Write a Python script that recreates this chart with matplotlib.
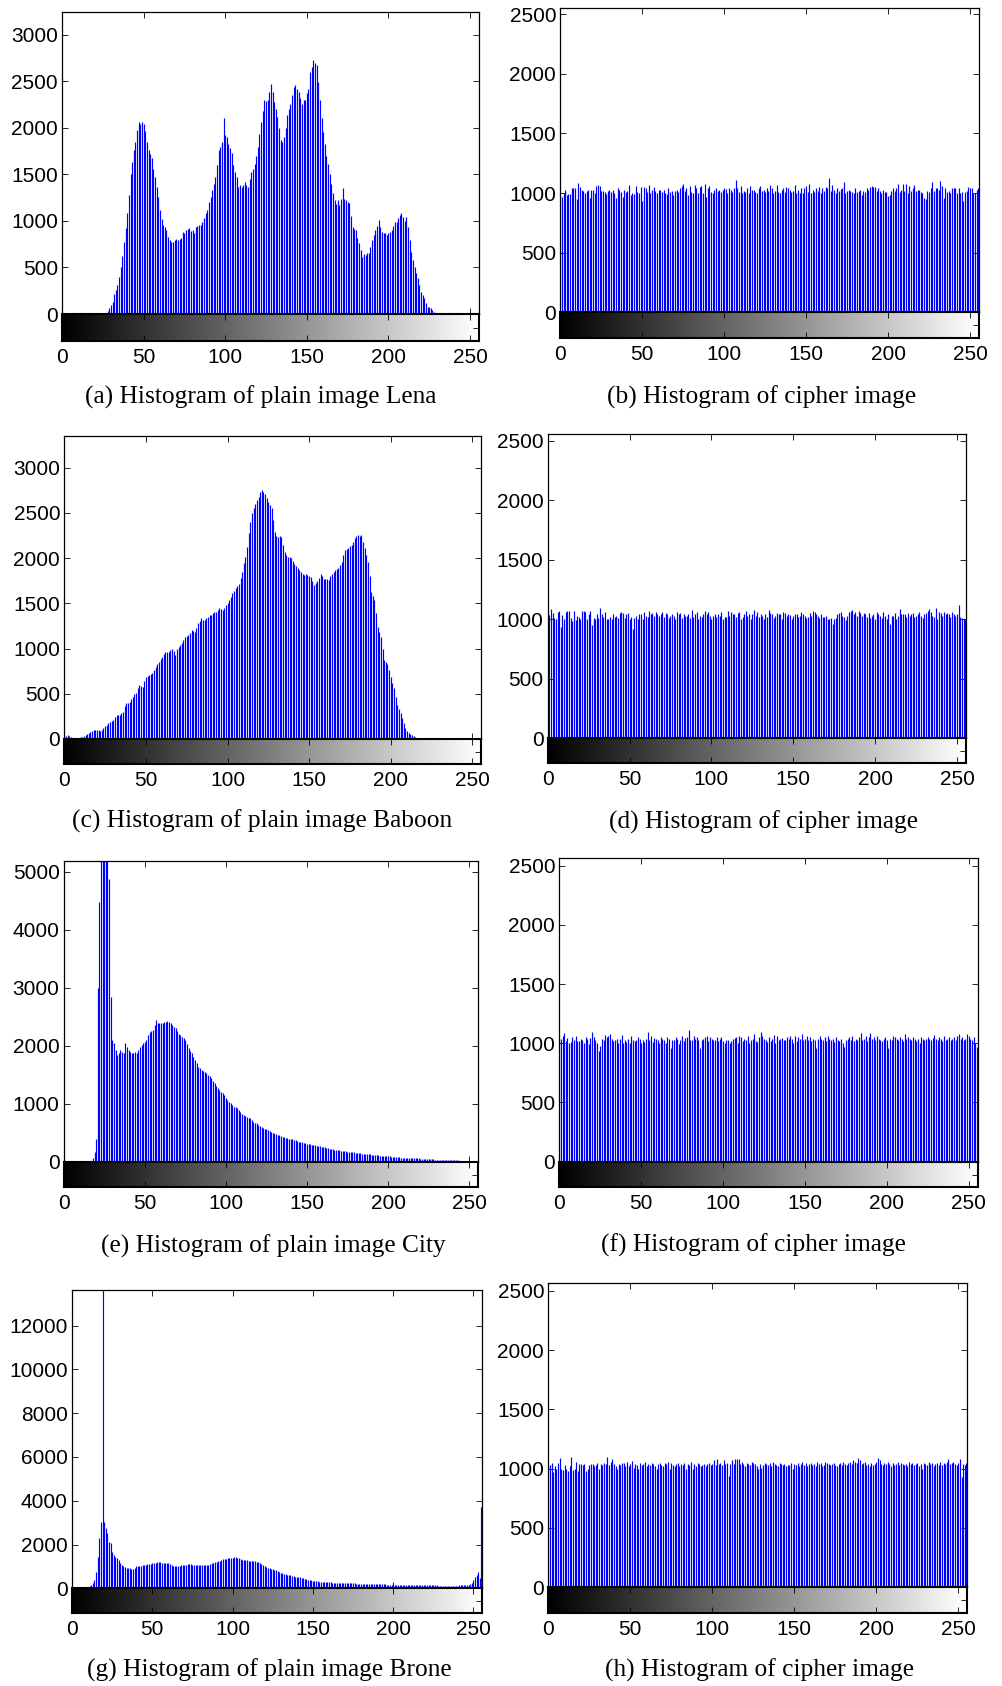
import numpy as np
import matplotlib
matplotlib.use("Agg")
import matplotlib.pyplot as plt

plt.rcParams['font.family'] = ['Liberation Sans', 'DejaVu Sans']

gray_levels = np.arange(256)
x_ticks = [0, 50, 100, 150, 200, 250]

# plain image histograms (16 bins per row)
lena_counts = [
    0, 0, 0, 0, 0, 0, 0, 0, 0, 0, 0, 0, 0, 0, 0, 0,
    0, 0, 0, 0, 0, 0, 0, 0, 0, 0, 0, 15, 35, 60, 95, 130,
    220, 260, 310, 400, 500, 620, 775, 920, 1080, 1280, 1500, 1635, 1760, 1850, 1980, 2065,
    2040, 2065, 2045, 1960, 1850, 1760, 1720, 1670, 1560, 1475, 1360, 1260, 1120, 1025, 955, 930,
    900, 830, 795, 770, 775, 800, 810, 790, 810, 820, 885, 870, 900, 910, 920, 890,
    900, 870, 935, 940, 955, 960, 990, 1030, 1080, 1120, 1205, 1260, 1330, 1400, 1475, 1600,
    1760, 1790, 1850, 2100, 1920, 1900, 1830, 1780, 1725, 1600, 1530, 1475, 1365, 1380, 1365, 1380,
    1420, 1380, 1365, 1450, 1530, 1560, 1615, 1700, 1795, 1930, 2065, 2180, 2295, 2290, 2300, 2380,
    2475, 2380, 2280, 2200, 2115, 2000, 1870, 1850, 1905, 2000, 2135, 2200, 2260, 2350, 2440, 2460,
    2420, 2380, 2315, 2250, 2295, 2300, 2370, 2420, 2600, 2650, 2725, 2700, 2670, 2495, 2300, 2100,
    1950, 1830, 1700, 1615, 1500, 1400, 1300, 1225, 1180, 1225, 1170, 1240, 1350, 1230, 1225, 1200,
    1190, 1050, 935, 910, 900, 820, 760, 690, 615, 640, 635, 660, 650, 720, 795, 850,
    900, 950, 1010, 930, 885, 870, 865, 850, 865, 880, 900, 950, 990, 990, 1030, 1060,
    1090, 1045, 1000, 1045, 935, 800, 670, 580, 510, 440, 385, 310, 240, 200, 170, 120,
    80, 70, 60, 40, 25, 15, 7, 0, 0, 0, 0, 0, 0, 0, 0, 0,
    0, 0, 0, 0, 0, 0, 0, 0, 0, 0, 0, 0, 0, 0, 0, 0,
]

baboon_counts = [
    40, 30, 45, 35, 20, 15, 10, 12, 10, 15, 20, 25, 35, 44, 55, 63,
    75, 92, 95, 100, 98, 95, 92, 105, 118, 140, 155, 175, 190, 200, 210, 240,
    265, 270, 265, 285, 300, 360, 395, 400, 410, 440, 470, 500, 505, 560, 600, 590,
    580, 640, 690, 700, 710, 715, 725, 760, 800, 830, 855, 880, 910, 940, 965, 960,
    965, 985, 1000, 970, 930, 1000, 1020, 1040, 1060, 1090, 1130, 1140, 1150, 1170, 1205, 1190,
    1185, 1230, 1280, 1310, 1335, 1320, 1315, 1340, 1350, 1370, 1370, 1390, 1400, 1410, 1430, 1445,
    1435, 1425, 1450, 1480, 1500, 1535, 1570, 1610, 1640, 1665, 1690, 1720, 1780, 1850, 1950, 2010,
    2120, 2275, 2400, 2500, 2560, 2605, 2640, 2680, 2730, 2750, 2730, 2715, 2670, 2625, 2590, 2550,
    2420, 2290, 2250, 2235, 2240, 2235, 2150, 2070, 2040, 2015, 2010, 2000, 1970, 1940, 1915, 1890,
    1870, 1850, 1830, 1815, 1820, 1815, 1800, 1795, 1750, 1700, 1730, 1750, 1780, 1830, 1800, 1775,
    1770, 1765, 1760, 1800, 1830, 1850, 1870, 1880, 1890, 1930, 1960, 2030, 2090, 2100, 2110, 2130,
    2145, 2180, 2220, 2240, 2255, 2250, 2255, 2180, 2110, 2040, 1960, 1800, 1630, 1580, 1535, 1390,
    1240, 1180, 1130, 1000, 875, 850, 835, 760, 690, 620, 560, 470, 375, 330, 285, 230,
    175, 125, 90, 70, 50, 40, 28, 22, 15, 12, 10, 5, 5, 5, 5, 5,
    5, 5, 5, 0, 0, 0, 0, 0, 0, 0, 0, 0, 0, 0, 0, 0,
    0, 0, 0, 0, 0, 0, 0, 0, 0, 0, 0, 0, 0, 0, 0, 0,
]

city_counts = [
    0, 0, 0, 0, 0, 0, 0, 0, 0, 0, 0, 0, 0, 0, 0, 0,
    0, 20, 57, 170, 400, 2990, 4480, 5600, 6400, 6900, 6300, 5700, 4870, 2845, 2100, 2050,
    1925, 1840, 1880, 1925, 1900, 1870, 2040, 1980, 1925, 1900, 1870, 1870, 1890, 1870, 1930, 1980,
    2010, 2040, 2070, 2100, 2180, 2240, 2250, 2270, 2350, 2440, 2400, 2385, 2390, 2395, 2405, 2415,
    2420, 2415, 2390, 2355, 2330, 2300, 2250, 2210, 2180, 2155, 2130, 2100, 2030, 1955, 1910, 1870,
    1810, 1750, 1700, 1640, 1610, 1580, 1565, 1550, 1525, 1500, 1470, 1435, 1390, 1350, 1310, 1265,
    1235, 1205, 1180, 1150, 1105, 1065, 1035, 1005, 975, 950, 935, 920, 890, 860, 830, 805,
    790, 775, 760, 745, 720, 690, 675, 660, 640, 615, 595, 575, 565, 560, 545, 535,
    515, 500, 490, 475, 465, 460, 445, 430, 420, 415, 405, 400, 395, 390, 380, 375,
    360, 345, 340, 335, 325, 315, 310, 305, 298, 290, 285, 280, 275, 270, 265, 260,
    252, 245, 238, 230, 225, 220, 215, 210, 205, 200, 195, 190, 188, 185, 178, 172,
    166, 160, 160, 160, 152, 145, 145, 145, 138, 130, 128, 125, 125, 125, 120, 115,
    112, 110, 108, 105, 103, 100, 100, 98, 95, 90, 86, 84, 82, 80, 78, 75,
    72, 70, 69, 69, 68, 66, 63, 60, 58, 57, 57, 56, 55, 53, 50, 48,
    46, 44, 42, 40, 38, 36, 34, 33, 32, 31, 30, 29, 28, 27, 26, 25,
    24, 23, 22, 21, 20, 19, 18, 18, 17, 17, 16, 16, 15, 15, 14, 13,
]

brone_counts = [
    0, 0, 0, 0, 0, 0, 0, 0, 0, 0, 0, 107, 150, 230, 380, 760,
    1450, 2285, 3045, 14500, 3045, 2740, 2510, 2130, 2055, 1675, 1520, 1450, 1370, 1295, 1140, 1080,
    1020, 980, 945, 930, 915, 900, 885, 950, 1020, 1010, 1020, 1040, 1065, 1060, 1065, 1090,
    1110, 1120, 1140, 1150, 1170, 1195, 1220, 1200, 1170, 1175, 1170, 1155, 1140, 1095, 1050, 1035,
    1020, 1025, 1020, 1030, 1050, 1055, 1065, 1080, 1095, 1090, 1095, 1080, 1065, 1070, 1080, 1075,
    1080, 1075, 1070, 1065, 1065, 1060, 1100, 1140, 1140, 1180, 1220, 1240, 1265, 1295, 1325, 1340,
    1355, 1370, 1385, 1390, 1400, 1410, 1415, 1390, 1370, 1330, 1295, 1295, 1295, 1280, 1265, 1265,
    1265, 1265, 1240, 1220, 1180, 1140, 1100, 1065, 1030, 990, 950, 915, 890, 870, 855, 840,
    800, 760, 720, 685, 660, 640, 625, 610, 595, 580, 555, 535, 515, 500, 500, 475,
    455, 430, 410, 395, 380, 365, 350, 335, 320, 312, 305, 298, 290, 282, 275, 275,
    275, 268, 260, 255, 250, 248, 245, 242, 240, 235, 232, 230, 228, 232, 230, 226,
    228, 215, 218, 212, 215, 205, 200, 205, 198, 200, 185, 190, 185, 182, 188, 185,
    180, 186, 185, 175, 170, 172, 168, 170, 174, 168, 170, 165, 170, 168, 172, 150,
    152, 148, 150, 155, 150, 146, 150, 148, 152, 150, 145, 150, 137, 140, 135, 138,
    137, 135, 140, 136, 120, 122, 118, 120, 124, 118, 120, 122, 116, 120, 118, 122,
    120, 137, 140, 137, 150, 148, 152, 170, 200, 260, 380, 535, 620, 760, 450, 3730,
]

# cipher image histograms
lena_cipher_counts = [
    985, 970, 1000, 1030, 985, 990, 995, 1040, 1045, 1045, 950, 1085, 1050, 1030, 1020, 1000,
    1020, 1025, 960, 1030, 1025, 1000, 1060, 1065, 1060, 1020, 1015, 1010, 995, 1020, 1025, 1005,
    1030, 1000, 960, 1040, 1030, 1005, 965, 1025, 1010, 1015, 1070, 985, 1000, 990, 1060, 1010,
    1000, 1055, 935, 1050, 1045, 1010, 1065, 1000, 1030, 1050, 1015, 1000, 1025, 1030, 1010, 1030,
    1000, 990, 1045, 1010, 1020, 980, 1020, 1030, 1005, 1045, 1060, 1075, 1020, 1040, 980, 1060,
    1010, 1000, 1070, 1040, 1000, 1050, 1060, 1000, 1080, 970, 1045, 1060, 1010, 1000, 1030, 1040,
    1020, 1030, 1010, 1030, 1040, 1035, 1000, 1040, 1030, 1010, 1045, 1110, 1040, 1005, 1060, 1000,
    1020, 1005, 1040, 1000, 1060, 1030, 1030, 1010, 1000, 1040, 1060, 1020, 1030, 1005, 1045, 1015,
    1065, 1040, 1000, 1020, 1070, 1010, 1000, 1030, 1040, 1005, 1050, 1040, 1030, 1010, 1020, 1065,
    1000, 1030, 1000, 1045, 1000, 1040, 1060, 1010, 1075, 1000, 1030, 1010, 1045, 1020, 1050, 1000,
    1040, 1020, 1050, 1040, 1125, 1020, 1065, 1030, 1000, 1040, 1015, 1035, 1040, 1095, 1000, 1020,
    1030, 1015, 1010, 1000, 1040, 1010, 1015, 1030, 985, 1020, 1010, 1040, 1030, 1050, 1060, 1050,
    1055, 1020, 1045, 1020, 1000, 1030, 1010, 1010, 975, 985, 1020, 1045, 1020, 1040, 1080, 1005,
    1030, 1080, 1020, 1080, 1000, 1060, 1020, 1040, 1070, 1020, 1030, 1025, 1010, 1000, 960, 950,
    1015, 1010, 1045, 1095, 1020, 1040, 1040, 1030, 1100, 1060, 960, 1040, 1010, 1020, 1000, 1040,
    1040, 1040, 1000, 1040, 1000, 1010, 930, 1005, 1020, 1050, 1040, 1040, 1000, 1000, 1030, 1040,
]

baboon_cipher_counts = [
    1040, 1035, 1085, 1050, 1010, 1000, 1060, 1065, 935, 1035, 1000, 1060, 1070, 1070, 1010, 985,
    1065, 990, 1030, 1015, 1000, 1065, 1070, 1060, 1000, 1045, 1070, 950, 1010, 1000, 1040, 1010,
    1090, 1040, 1020, 1060, 1005, 1000, 1020, 1000, 1040, 1020, 1030, 1010, 1050, 1060, 1055, 1010,
    1045, 1055, 1000, 1015, 915, 1010, 1025, 1000, 1040, 1045, 1000, 1060, 1030, 1020, 1070, 1040,
    1050, 1030, 1060, 1040, 1030, 1045, 1060, 1020, 1050, 1045, 1010, 1025, 1040, 1030, 1000, 1060,
    1045, 1050, 1010, 1040, 1030, 1030, 1040, 1010, 1075, 1020, 1045, 1060, 1000, 1030, 1020, 1040,
    1065, 1040, 1060, 1030, 1005, 1025, 1040, 1020, 1040, 1030, 1060, 1000, 1015, 1020, 1070, 1030,
    1060, 1040, 1040, 1020, 1050, 1060, 1005, 1020, 1040, 1070, 1030, 1045, 1000, 1040, 1080, 1030,
    1060, 1020, 1040, 1030, 1000, 1040, 1020, 1080, 1050, 1040, 1010, 1030, 1050, 1040, 1045, 1005,
    1060, 1050, 1030, 1040, 1035, 1000, 1030, 1040, 1040, 1020, 1030, 1060, 1040, 1030, 1010, 1020,
    1050, 1030, 1070, 1060, 1040, 1030, 1010, 1045, 1015, 1020, 1030, 1005, 1000, 1010, 960, 1000,
    1010, 1040, 1050, 1060, 1030, 1020, 990, 1030, 1060, 1070, 1075, 1040, 1060, 1025, 1070, 1050,
    1030, 1050, 1040, 1020, 1050, 1010, 1030, 1040, 1000, 1060, 1045, 1030, 1010, 1060, 1030, 1000,
    1040, 960, 1030, 1030, 1050, 1000, 1030, 1085, 1040, 1045, 1040, 1020, 1050, 1030, 1040, 1050,
    1020, 1030, 1040, 1060, 1030, 1010, 1040, 1050, 1070, 1085, 1060, 1030, 1020, 1090, 1000, 1060,
    1050, 1030, 1060, 1045, 1050, 1040, 1020, 1060, 1040, 1030, 1045, 1118, 1020, 1010, 1000, 1005,
]

city_cipher_counts = [
    1045, 1040, 1060, 1084, 1020, 1045, 1000, 1010, 1050, 1030, 1060, 1020, 1020, 1040, 1030, 1000,
    1050, 1040, 990, 1045, 1092, 1050, 1030, 1000, 937, 975, 1040, 1030, 1070, 1050, 1060, 1080,
    1040, 1020, 1030, 1040, 1000, 1040, 1070, 1000, 1030, 1010, 1040, 1000, 1060, 1030, 1020, 1030,
    1050, 1040, 1000, 1030, 1010, 1040, 1092, 1030, 1060, 1010, 1045, 1040, 1030, 1000, 1050, 1040,
    1030, 1000, 1050, 1040, 957, 1030, 1030, 1050, 1040, 990, 1030, 1060, 1020, 1045, 1050, 1112,
    1030, 1030, 1060, 1040, 1050, 1030, 960, 1030, 1040, 1050, 1060, 1020, 1050, 1040, 1030, 1030,
    1050, 1020, 1040, 1050, 1020, 1000, 1030, 1030, 1000, 1020, 1040, 1045, 1050, 1000, 1060, 1050,
    1020, 1040, 1030, 1060, 1000, 1030, 1040, 1080, 1020, 1010, 1050, 1092, 1060, 1040, 1030, 1010,
    1050, 1020, 1040, 1070, 1000, 1060, 1030, 1040, 1045, 1030, 1030, 1050, 1040, 1060, 1040, 1000,
    1060, 1020, 1050, 1040, 1078, 1030, 1040, 1060, 1030, 1050, 1020, 1040, 1030, 957, 1035, 1060,
    1040, 1030, 1050, 1020, 1060, 1040, 1030, 1040, 1010, 1050, 1030, 1020, 1040, 1000, 966, 1030,
    1040, 1050, 1030, 1060, 1020, 1040, 1030, 1050, 1090, 1030, 1040, 1060, 1020, 1050, 1090, 1040,
    1050, 1030, 1060, 1040, 1030, 1020, 1040, 1050, 1030, 960, 1040, 1030, 1060, 1050, 1040, 1030,
    1050, 1040, 1020, 1080, 1040, 1050, 1040, 1030, 1050, 1040, 1020, 1040, 1000, 1050, 1040, 1030,
    1040, 1050, 1040, 1030, 1045, 1070, 1040, 1030, 1050, 1040, 1020, 1060, 1030, 1040, 1050, 1030,
    1040, 1050, 1030, 1060, 1080, 1040, 1050, 1030, 1040, 1080, 1060, 1040, 1030, 1050, 1000, 966,
]

brone_cipher_counts = [
    1040, 1030, 1045, 975, 1020, 1000, 1050, 1087, 1000, 985, 1030, 1000, 980, 1020, 1095, 990,
    1000, 1060, 980, 1040, 1040, 1030, 1040, 980, 1000, 1030, 1040, 1040, 1020, 1030, 1050, 1000,
    1040, 1030, 1050, 1040, 1095, 1030, 1060, 1085, 1040, 1020, 1000, 1040, 1030, 1045, 1050, 1020,
    1060, 1020, 1040, 1065, 1010, 1040, 1030, 1000, 1050, 1035, 1040, 1060, 1020, 1040, 1030, 1050,
    1040, 1025, 1000, 1040, 1050, 1030, 1020, 1045, 1040, 1060, 1000, 1050, 1030, 1020, 1040, 1050,
    1020, 1040, 1030, 1050, 1000, 1040, 1030, 1060, 1000, 1040, 1020, 1050, 1040, 1020, 1030, 1040,
    1020, 1040, 1050, 1030, 1040, 1070, 1030, 1079, 1040, 1050, 1030, 1070, 1040, 1050, 941, 1040,
    1070, 1040, 1079, 1079, 1079, 1040, 1060, 1040, 1020, 1050, 1040, 1030, 1060, 1050, 1040, 1020,
    1000, 1040, 1010, 1030, 1050, 1040, 1030, 1045, 1020, 1060, 1040, 1030, 1020, 1050, 1040, 1030,
    1040, 1020, 1030, 1030, 1045, 1000, 1040, 1030, 1050, 1020, 1040, 1060, 1030, 1050, 1020, 1040,
    1050, 1030, 1040, 1020, 1060, 1040, 1050, 1020, 1030, 1060, 1050, 1040, 1030, 1040, 1050, 1030,
    1020, 1040, 1050, 1030, 1060, 1040, 1030, 1050, 1060, 1040, 1070, 1060, 1050, 1087, 1070, 1040,
    1050, 1060, 1030, 1040, 1020, 1050, 1030, 1040, 1060, 1087, 1070, 1040, 1030, 1050, 1040, 1060,
    1040, 1020, 1050, 1030, 1040, 1060, 1030, 1050, 1040, 1030, 1040, 1020, 1060, 1040, 1050, 1030,
    1040, 1050, 1020, 1040, 1000, 1050, 1040, 1030, 1060, 1040, 1050, 1020, 1040, 1050, 1030, 1060,
    1030, 1050, 1040, 1060, 1079, 1040, 1050, 1060, 1040, 1030, 1050, 1081, 927, 1040, 1030, 1050,
]

captions = [
    "(a) Histogram of plain image Lena",
    "(b) Histogram of cipher image",
    "(c) Histogram of plain image Baboon",
    "(d) Histogram of cipher image",
    "(e) Histogram of plain image City",
    "(f) Histogram of cipher image",
    "(g) Histogram of plain image Brone",
    "(h) Histogram of cipher image",
]
series = [lena_counts, lena_cipher_counts, baboon_counts, baboon_cipher_counts,
          city_counts, city_cipher_counts, brone_counts, brone_cipher_counts]
y_tops = [3240, 2550, 3355, 2557, 5190, 2562, 13630, 2563]
y_ticks = [list(range(0, 3001, 500)), list(range(0, 2501, 500)),
           list(range(0, 3001, 500)), list(range(0, 2501, 500)),
           list(range(0, 5001, 1000)), list(range(0, 2501, 500)),
           list(range(0, 12001, 2000)), list(range(0, 2501, 500))]

for s in series:
    assert len(s) == 256, len(s)

# layout in pixels: left, right, top, zero line, bottom of the gray bar
W, H = 1003, 1686
boxes = [
    (62, 479, 12.3, 314, 341),
    (560.3, 979, 8.3, 312.3, 338.3),
    (64.3, 481.3, 435.7, 739, 764.3),
    (547.7, 966, 434, 738, 763.3),
    (63.7, 478, 860.7, 1161.7, 1187.3),
    (559.3, 977.7, 858.3, 1161.7, 1187.3),
    (72, 482.3, 1290, 1588.3, 1613.3),
    (548.3, 967.3, 1283.3, 1587.3, 1612.7),
]
caption_pos = [(261, 404), (762, 404), (262, 828), (764, 829),
               (273, 1253), (753, 1252), (269, 1677), (760, 1677)]

x_max = 255.5
ramp = np.linspace(0, 1, 256).reshape(1, -1)

fig = plt.figure(figsize=(W / 100, H / 100), dpi=100)

for i in range(8):
    L, R, T, Z, G = boxes[i]
    ax = fig.add_axes([L / W, 1 - Z / H, (R - L) / W, (Z - T) / H])
    ax.vlines(gray_levels, 0, series[i], colors='#0000ff', linewidth=0.85)
    ax.axhline(0, color='#0000ff', linewidth=1.2)
    ax.set_xlim(0, x_max)
    ax.set_ylim(0, y_tops[i])
    ax.set_xticks(x_ticks)
    ax.set_yticks(y_ticks[i])
    ax.tick_params(direction='in', top=True, right=True, labelbottom=False,
                   length=4, width=0.6, labelsize=15, pad=3)
    for sp in ax.spines.values():
        sp.set_linewidth(0.9)

    cb = fig.add_axes([L / W, 1 - G / H, (R - L) / W, (G - Z) / H])
    cb.imshow(ramp, aspect='auto', cmap='gray', extent=[0, x_max, 0, 1],
              interpolation='bilinear')
    cb.set_xlim(0, x_max)
    cb.set_ylim(0, 1)
    cb.set_xticks(x_ticks)
    cb.set_yticks([0.5])
    cb.tick_params(direction='in', top=True, right=True, labelleft=False,
                   length=4, width=0.6, labelsize=15, pad=5)
    for sp in cb.spines.values():
        sp.set_linewidth(1.5)

    cx, cy = caption_pos[i]
    fig.text(cx / W, 1 - cy / H, captions[i], ha='center', va='baseline',
             fontsize=18.3, family=['Liberation Serif', 'DejaVu Serif'])

fig.savefig("out.png", dpi=100)
